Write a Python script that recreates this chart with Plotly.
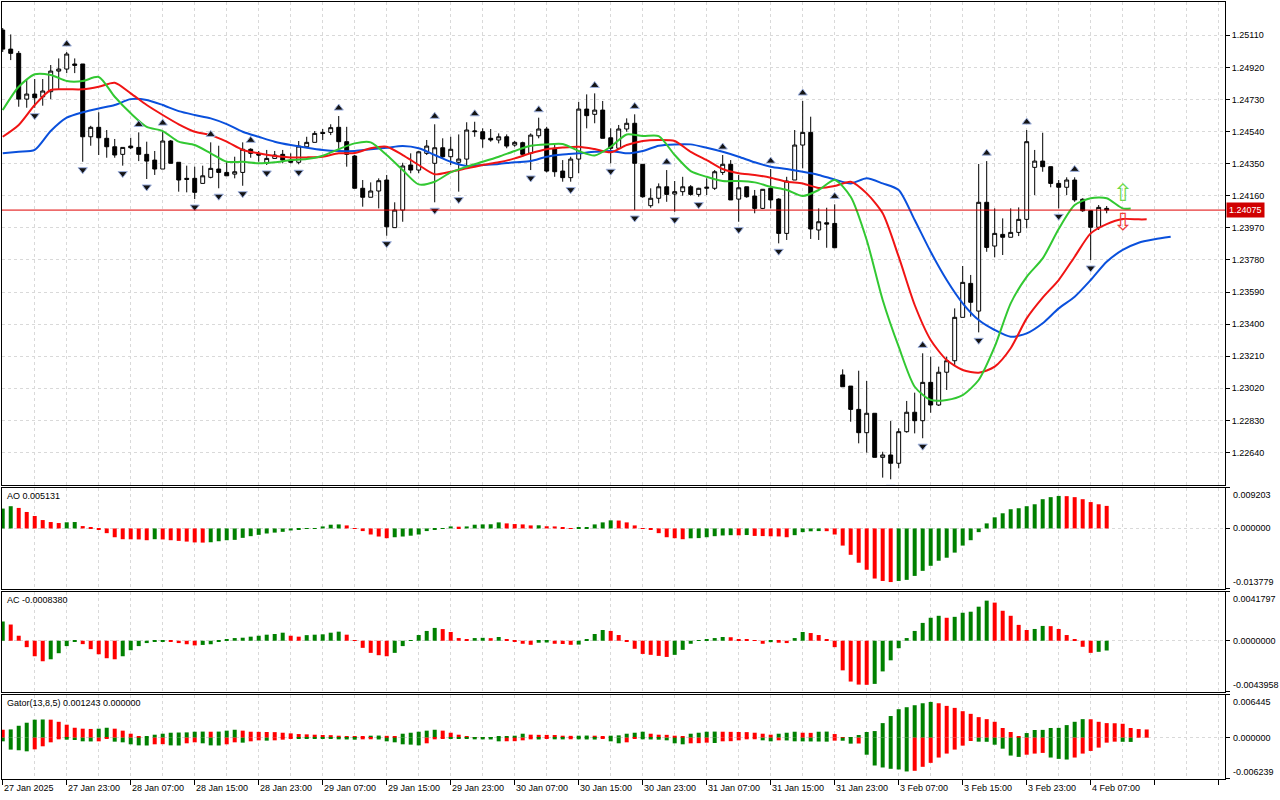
import plotly.graph_objects as go

# GBPUSD-like H1 chart, 27 Jan 15:00 .. 4 Feb 09:00 (weekend skipped)
opens = [
    1.25141, 1.25028, 1.25003, 1.24732, 1.24762, 1.24746, 1.24776, 1.24898, 1.24910, 1.24940,
    1.24940, 1.24509, 1.24565, 1.24500, 1.24450, 1.24405, 1.24454, 1.24446, 1.24405, 1.24371,
    1.24318, 1.24484, 1.24358, 1.24263, 1.24263, 1.24233, 1.24269, 1.24318, 1.24298, 1.24288,
    1.24298, 1.24435, 1.24407, 1.24352, 1.24381, 1.24405, 1.24371, 1.24358, 1.24450, 1.24476,
    1.24535, 1.24535, 1.24565, 1.24480, 1.24395, 1.24204, 1.24151, 1.24188, 1.24253, 1.23971,
    1.24075, 1.24342, 1.24312, 1.24411, 1.24352, 1.24444, 1.24391, 1.24358, 1.24377, 1.24539,
    1.24539, 1.24500, 1.24490, 1.24509, 1.24460, 1.24474, 1.24411, 1.24515, 1.24555, 1.24441,
    1.24306, 1.24267, 1.24377, 1.24673, 1.24642, 1.24667, 1.24503, 1.24441, 1.24555, 1.24589,
    1.24346, 1.24101, 1.24145, 1.24213, 1.24170, 1.24184, 1.24213, 1.24168, 1.24204, 1.24204,
    1.24298, 1.24346, 1.24140, 1.24213, 1.24158, 1.24085, 1.24204, 1.24140, 1.23937, 1.24253,
    1.24460, 1.24535, 1.23957, 1.24000, 1.23996, 1.23099, 1.23033, 1.22895, 1.22757, 1.22872,
    1.22611, 1.22625, 1.22576, 1.22763, 1.22878, 1.22828, 1.23055, 1.22921, 1.23115, 1.23183,
    1.23440, 1.23641, 1.23477, 1.24121, 1.23862, 1.23931, 1.23914, 1.23943, 1.24020, 1.24328,
    1.24365, 1.24332, 1.24233, 1.24210, 1.24253, 1.24139, 1.24071, 1.23973, 1.24085,
]
highs = [
    1.25153, 1.25115, 1.25017, 1.24845, 1.24851, 1.24851, 1.24934, 1.24973, 1.25011, 1.24973,
    1.24940, 1.24574, 1.24654, 1.24549, 1.24496, 1.24446, 1.24503, 1.24535, 1.24480, 1.24425,
    1.24543, 1.24490, 1.24358, 1.24338, 1.24332, 1.24338, 1.24476, 1.24456, 1.24361, 1.24391,
    1.24476, 1.24441, 1.24425, 1.24431, 1.24425, 1.24431, 1.24411, 1.24484, 1.24509, 1.24543,
    1.24555, 1.24583, 1.24632, 1.24568, 1.24401, 1.24253, 1.24239, 1.24263, 1.24283, 1.24121,
    1.24355, 1.24411, 1.24426, 1.24490, 1.24583, 1.24500, 1.24509, 1.24523, 1.24595, 1.24598,
    1.24559, 1.24555, 1.24529, 1.24523, 1.24484, 1.24480, 1.24529, 1.24622, 1.24568, 1.24460,
    1.24371, 1.24391, 1.24716, 1.24760, 1.24766, 1.24721, 1.24559, 1.24579, 1.24618, 1.24642,
    1.24346, 1.24204, 1.24233, 1.24312, 1.24247, 1.24272, 1.24223, 1.24207, 1.24263, 1.24312,
    1.24401, 1.24371, 1.24283, 1.24213, 1.24194, 1.24200, 1.24318, 1.24145, 1.24272, 1.24549,
    1.24721, 1.24628, 1.24085, 1.24089, 1.24109, 1.23132, 1.23033, 1.23124, 1.23063, 1.22872,
    1.22644, 1.22826, 1.22783, 1.22945, 1.22994, 1.23227, 1.23207, 1.23148, 1.23207, 1.23493,
    1.23744, 1.23691, 1.24348, 1.24365, 1.24085, 1.24026, 1.24085, 1.24091, 1.24549, 1.24431,
    1.24533, 1.24332, 1.24253, 1.24269, 1.24269, 1.24145, 1.24075, 1.24105, 1.24099,
]
lows = [
    1.25011, 1.24963, 1.24687, 1.24681, 1.24681, 1.24693, 1.24732, 1.24792, 1.24886, 1.24886,
    1.24361, 1.24456, 1.24401, 1.24385, 1.24385, 1.24338, 1.24436, 1.24365, 1.24259, 1.24283,
    1.24318, 1.24352, 1.24184, 1.24180, 1.24140, 1.24233, 1.24263, 1.24204, 1.24278, 1.24263,
    1.24219, 1.24385, 1.24361, 1.24342, 1.24381, 1.24352, 1.24352, 1.24346, 1.24450, 1.24476,
    1.24490, 1.24519, 1.24435, 1.24332, 1.24204, 1.24095, 1.24151, 1.24085, 1.23923, 1.23971,
    1.24006, 1.24293, 1.24293, 1.24401, 1.24121, 1.24381, 1.24342, 1.24184, 1.24332, 1.24509,
    1.24444, 1.24480, 1.24470, 1.24441, 1.24450, 1.24391, 1.24312, 1.24500, 1.24298, 1.24272,
    1.24243, 1.24243, 1.24293, 1.24559, 1.24589, 1.24500, 1.24352, 1.24436, 1.24539, 1.24075,
    1.24148, 1.24089, 1.24115, 1.24124, 1.24065, 1.24160, 1.24160, 1.24154, 1.24164, 1.24194,
    1.24283, 1.24135, 1.24006, 1.24148, 1.24056, 1.24081, 1.24085, 1.23878, 1.23898, 1.24253,
    1.24322, 1.23904, 1.23898, 1.23852, 1.23852, 1.23029, 1.22822, 1.22694, 1.22639, 1.22611,
    1.22491, 1.22481, 1.22546, 1.22757, 1.22753, 1.22724, 1.22875, 1.22915, 1.23010, 1.23158,
    1.23440, 1.23444, 1.23351, 1.23828, 1.23795, 1.23809, 1.23914, 1.23921, 1.23967, 1.24164,
    1.24302, 1.24210, 1.24085, 1.24164, 1.24124, 1.24065, 1.23779, 1.23957, 1.24056,
]
closes = [
    1.25028, 1.25003, 1.24732, 1.24762, 1.24740, 1.24780, 1.24898, 1.24910, 1.24999, 1.24932,
    1.24509, 1.24565, 1.24503, 1.24450, 1.24401, 1.24446, 1.24444, 1.24405, 1.24365, 1.24318,
    1.24484, 1.24352, 1.24253, 1.24257, 1.24180, 1.24278, 1.24322, 1.24298, 1.24278, 1.24302,
    1.24435, 1.24411, 1.24401, 1.24381, 1.24401, 1.24371, 1.24358, 1.24454, 1.24476, 1.24529,
    1.24529, 1.24563, 1.24480, 1.24405, 1.24204, 1.24151, 1.24188, 1.24249, 1.23976, 1.24075,
    1.24336, 1.24312, 1.24420, 1.24454, 1.24444, 1.24391, 1.24435, 1.24377, 1.24549, 1.24543,
    1.24496, 1.24490, 1.24509, 1.24454, 1.24476, 1.24405, 1.24519, 1.24555, 1.24306, 1.24302,
    1.24267, 1.24377, 1.24673, 1.24634, 1.24667, 1.24500, 1.24441, 1.24555, 1.24589, 1.24352,
    1.24154, 1.24145, 1.24213, 1.24168, 1.24184, 1.24213, 1.24168, 1.24204, 1.24210, 1.24302,
    1.24346, 1.24135, 1.24207, 1.24154, 1.24085, 1.24198, 1.24135, 1.23937, 1.24247, 1.24460,
    1.24535, 1.23963, 1.24006, 1.23992, 1.23852, 1.23029, 1.22895, 1.22757, 1.22872, 1.22611,
    1.22625, 1.22576, 1.22763, 1.22878, 1.22828, 1.23055, 1.22921, 1.23115, 1.23183, 1.23440,
    1.23647, 1.23529, 1.24121, 1.23854, 1.23937, 1.23914, 1.23943, 1.24020, 1.24480, 1.24365,
    1.24332, 1.24233, 1.24210, 1.24253, 1.24135, 1.24071, 1.23973, 1.24091, 1.24075,
]

# alligator, read every second bar (lines run past the last bar by their shift)
lips_x = list(range(0, 141, 2)) + [141]
lips = [
    1.24667, 1.24805, 1.24879, 1.24875, 1.24839, 1.24839, 1.24863, 1.24746, 1.24648, 1.24568,
    1.24543, 1.24480, 1.24460, 1.24411, 1.24361, 1.24361, 1.24352, 1.24358, 1.24371, 1.24377,
    1.24397, 1.24436, 1.24470, 1.24476, 1.24401, 1.24312, 1.24227, 1.24243, 1.24298, 1.24332,
    1.24361, 1.24391, 1.24425, 1.24456, 1.24464, 1.24466, 1.24425, 1.24398, 1.24450, 1.24523,
    1.24513, 1.24513, 1.24401, 1.24306, 1.24272, 1.24247, 1.24247, 1.24239, 1.24213, 1.24194,
    1.24158, 1.24194, 1.24253, 1.24154, 1.23898, 1.23543, 1.23266, 1.23029, 1.22951, 1.22951,
    1.22980, 1.23069, 1.23266, 1.23523, 1.23680, 1.23789, 1.23963, 1.24105, 1.24145, 1.24145,
    1.24085, 1.24085,
]
teeth_x = list(range(0, 143, 2)) + [143]
teeth = [
    1.24509, 1.24579, 1.24697, 1.24786, 1.24790, 1.24790, 1.24805, 1.24829, 1.24766, 1.24697,
    1.24638, 1.24583, 1.24539, 1.24519, 1.24480, 1.24431, 1.24411, 1.24395, 1.24387, 1.24387,
    1.24391, 1.24411, 1.24413, 1.24441, 1.24450, 1.24401, 1.24342, 1.24287, 1.24302, 1.24322,
    1.24342, 1.24358, 1.24381, 1.24411, 1.24435, 1.24445, 1.24450, 1.24436, 1.24417, 1.24460,
    1.24484, 1.24490, 1.24484, 1.24420, 1.24371, 1.24318, 1.24293, 1.24283, 1.24267, 1.24243,
    1.24233, 1.24206, 1.24217, 1.24243, 1.24174, 1.24056, 1.23799, 1.23513, 1.23306, 1.23187,
    1.23128, 1.23112, 1.23148, 1.23257, 1.23434, 1.23557, 1.23661, 1.23799, 1.23937, 1.23992,
    1.24022, 1.24020, 1.24020,
]
jaw_x = list(range(0, 147, 2))
jaw = [
    1.24411, 1.24420, 1.24431, 1.24543, 1.24622, 1.24654, 1.24677, 1.24697, 1.24732, 1.24727,
    1.24697, 1.24661, 1.24638, 1.24618, 1.24584, 1.24539, 1.24509, 1.24480, 1.24460, 1.24444,
    1.24431, 1.24425, 1.24425, 1.24435, 1.24444, 1.24454, 1.24441, 1.24401, 1.24361, 1.24336,
    1.24342, 1.24348, 1.24358, 1.24365, 1.24391, 1.24404, 1.24411, 1.24420, 1.24425, 1.24411,
    1.24425, 1.24456, 1.24464, 1.24464, 1.24444, 1.24420, 1.24391, 1.24358, 1.24332, 1.24318,
    1.24302, 1.24283, 1.24256, 1.24233, 1.24263, 1.24233, 1.24194, 1.24016, 1.23828, 1.23661,
    1.23523, 1.23424, 1.23365, 1.23325, 1.23345, 1.23405, 1.23493, 1.23562, 1.23661, 1.23769,
    1.23839, 1.23882, 1.23902, 1.23917,
]

# fractal bars
frac_up = [8, 17, 20, 26, 31, 42, 54, 59, 67, 74, 79, 83, 90, 96, 100, 104, 115, 123, 128, 134]
frac_dn = [4, 10, 15, 18, 24, 27, 30, 33, 37, 48, 54, 57, 66, 71, 76, 79, 84, 87, 92, 97,
           111, 115, 122, 132, 136]

# signal arrows at the right end
signal_bar = 140
signal_up = 1.24176
signal_down = 1.24004

# Awesome Oscillator
ao_prev = 0.0040
ao = [
    0.00452, 0.00506, 0.00467, 0.00375, 0.00283, 0.00191, 0.00146, 0.00123, 0.00140, 0.00146,
    0.00054, 0.00023, -0.00020, -0.00107, -0.00200, -0.00245, -0.00247, -0.00250, -0.00268, -0.00245,
    -0.00250, -0.00268, -0.00283, -0.00299, -0.00318, -0.00322, -0.00314, -0.00291, -0.00268, -0.00260,
    -0.00214, -0.00176, -0.00146, -0.00115, -0.00095, -0.00077, -0.00046, -0.00023, -0.00010, 0.00005,
    0.00046, 0.00085, 0.00092, 0.00069, 0.00005, -0.00060, -0.00138, -0.00184, -0.00222, -0.00200,
    -0.00184, -0.00165, -0.00138, -0.00060, -0.00015, 0.00010, 0.00046, 0.00040, 0.00046, 0.00085,
    0.00092, 0.00095, 0.00138, 0.00115, 0.00100, 0.00092, 0.00069, 0.00072, 0.00050, 0.00046,
    0.00015, 0.00010, 0.00012, 0.00023, 0.00092, 0.00138, 0.00184, 0.00180, 0.00138, 0.00069,
    0.00010, -0.00020, -0.00107, -0.00200, -0.00222, -0.00245, -0.00225, -0.00220, -0.00200, -0.00176,
    -0.00160, -0.00153, -0.00156, -0.00150, -0.00170, -0.00174, -0.00178, -0.00182, -0.00200, -0.00153,
    -0.00084, -0.00065, -0.00060, -0.00062, -0.00138, -0.00390, -0.00600, -0.00780, -0.00940, -0.01140,
    -0.01195, -0.01220, -0.01195, -0.01170, -0.01080, -0.00965, -0.00850, -0.00735, -0.00666, -0.00550,
    -0.00390, -0.00268, -0.00084, 0.00115, 0.00253, 0.00345, 0.00437, 0.00460, 0.00506, 0.00550,
    0.00666, 0.00712, 0.00740, 0.00735, 0.00712, 0.00666, 0.00600, 0.00550, 0.005131,
]
ao_range = [-0.013779, 0.009203]

# Accelerator Oscillator
ac_prev = 0.0012
ac = [
    0.00165, 0.00139, 0.00043, -0.00055, -0.00133, -0.00176, -0.00159, -0.00107, -0.00046, -0.00010,
    -0.00029, -0.00072, -0.00116, -0.00150, -0.00159, -0.00133, -0.00081, -0.00046, -0.00020, -0.00010,
    -0.00005, -0.00007, -0.00020, -0.00030, -0.00040, -0.00036, -0.00030, -0.00005, 0.00010, 0.00023,
    0.00026, 0.00035, 0.00043, 0.00052, 0.00058, 0.00069, 0.00043, 0.00035, 0.00048, 0.00052,
    0.00055, 0.00069, 0.00078, 0.00052, 0.00005, -0.00061, -0.00104, -0.00124, -0.00133, -0.00104,
    -0.00046, 0.00005, 0.00049, 0.00084, 0.00110, 0.00100, 0.00075, 0.00023, 0.00010, 0.00023,
    0.00025, 0.00022, 0.00032, 0.00014, -0.00005, -0.00026, -0.00035, -0.00017, -0.00015, -0.00026,
    -0.00028, -0.00035, -0.00033, 0.00010, 0.00058, 0.00092, 0.00084, 0.00049, -0.00005, -0.00069,
    -0.00113, -0.00121, -0.00130, -0.00139, -0.00121, -0.00078, -0.00026, 0.00005, 0.00010, 0.00023,
    0.00032, 0.00030, 0.00014, 0.00012, 0.00003, -0.00026, -0.00012, -0.00017, -0.00020, 0.00023,
    0.00075, 0.00066, 0.00049, 0.00014, -0.00055, -0.00254, -0.00350, -0.00376, -0.00378, -0.00370,
    -0.00263, -0.00168, -0.00064, 0.00023, 0.00084, 0.00153, 0.00197, 0.00214, 0.00197, 0.00205,
    0.00240, 0.00249, 0.00292, 0.00344, 0.00327, 0.00257, 0.00214, 0.00136, 0.00092, 0.00101,
    0.00127, 0.00125, 0.00101, 0.00049, 0.00010, -0.00052, -0.00104, -0.00095, -0.000838,
]
ac_range = [-0.0043958, 0.0041797]

# Gator oscillator (upper runs 5 bars ahead, lower 3 bars ahead)
gator_up_prev = 0.0013
gator_up = [
    0.00120, 0.00125, 0.00180, 0.00226, 0.00272, 0.00275, 0.00272, 0.00240, 0.00196, 0.00150,
    0.00136, 0.00132, 0.00136, 0.00150, 0.00136, 0.00106, 0.00060, 0.00012, 0.00018, 0.00045,
    0.00060, 0.00075, 0.00078, 0.00080, 0.00090, 0.00092, 0.00090, 0.00092, 0.00106, 0.00120,
    0.00106, 0.00090, 0.00088, 0.00086, 0.00084, 0.00075, 0.00065, 0.00055, 0.00050, 0.00045,
    0.00040, 0.00038, 0.00030, 0.00025, 0.00015, 0.00012, 0.00030, 0.00032, 0.00028, 0.00015,
    0.00060, 0.00075, 0.00090, 0.00106, 0.00120, 0.00106, 0.00075, 0.00045, 0.00015, 0.00010,
    0.00005, 0.00008, 0.00015, 0.00020, 0.00030, 0.00060, 0.00045, 0.00043, 0.00042, 0.00040,
    0.00030, 0.00028, 0.00030, 0.00032, 0.00030, 0.00015, 0.00030, 0.00035, 0.00060, 0.00075,
    0.00090, 0.00060, 0.00045, 0.00043, 0.00030, 0.00015, 0.00060, 0.00075, 0.00090, 0.00092,
    0.00090, 0.00088, 0.00086, 0.00084, 0.00075, 0.00060, 0.00045, 0.00060, 0.00075, 0.00090,
    0.00075, 0.00073, 0.00090, 0.00092, 0.00055, 0.00002, 0.00005, 0.00040, 0.00086, 0.00100,
    0.00220, 0.00327, 0.00430, 0.00460, 0.00490, 0.00520, 0.00540, 0.00520, 0.00480, 0.00450,
    0.00400, 0.00360, 0.00310, 0.00280, 0.00240, 0.00146, 0.00086, 0.00015, 0.00070, 0.00116,
    0.00118, 0.00146, 0.00148, 0.00190, 0.00240, 0.00280, 0.00278, 0.00240, 0.00220, 0.00218,
    0.00210, 0.00146, 0.00130, 0.001243,
]
gator_lo_prev = -0.0003
gator_lo = [
    -0.00055, -0.00180, -0.00190, -0.00206, -0.00176, -0.00130, -0.00070, -0.00025, -0.00030, -0.00035,
    -0.00055, -0.00057, -0.00055, -0.00010, -0.00060, -0.00070, -0.00100, -0.00116, -0.00118, -0.00100,
    -0.00098, -0.00116, -0.00118, -0.00085, -0.00070, -0.00085, -0.00116, -0.00118, -0.00100, -0.00070,
    -0.00075, -0.00055, -0.00040, -0.00045, -0.00040, -0.00030, -0.00010, -0.00012, -0.00013, -0.00014,
    -0.00015, -0.00017, -0.00025, -0.00027, -0.00030, -0.00025, -0.00024, -0.00027, -0.00055, -0.00070,
    -0.00100, -0.00105, -0.00116, -0.00085, -0.00025, -0.00010, -0.00012, -0.00013, -0.00014, -0.00025,
    -0.00026, -0.00027, -0.00055, -0.00054, -0.00053, -0.00040, -0.00025, -0.00027, -0.00010, -0.00025,
    -0.00026, -0.00024, -0.00025, -0.00027, -0.00028, -0.00010, -0.00055, -0.00085, -0.00070, -0.00015,
    -0.00025, -0.00027, -0.00030, -0.00040, -0.00085, -0.00100, -0.00085, -0.00083, -0.00075, -0.00080,
    -0.00055, -0.00053, -0.00040, -0.00025, -0.00024, -0.00040, -0.00055, -0.00040, -0.00042, -0.00055,
    -0.00056, -0.00057, -0.00058, -0.00060, -0.00045, -0.00046, -0.00090, -0.00088, -0.00257, -0.00420,
    -0.00450, -0.00470, -0.00480, -0.00510, -0.00500, -0.00440, -0.00380, -0.00300, -0.00240, -0.00180,
    -0.00120, -0.00050, -0.00060, -0.00062, -0.00106, -0.00166, -0.00270, -0.00290, -0.00257, -0.00240,
    -0.00230, -0.00300, -0.00320, -0.00330, -0.00300, -0.00240, -0.00200, -0.00150, -0.00075, -0.00060,
    -0.00062, -0.00064,
]
gator_range = [-0.006239, 0.006445]

price_ticks = [1.25110, 1.24920, 1.24730, 1.24540, 1.24350, 1.24160, 1.23970,
               1.23780, 1.23590, 1.23400, 1.23210, 1.23020, 1.22830, 1.22640]
time_labels = ["27 Jan 2025", "27 Jan 23:00", "28 Jan 07:00", "28 Jan 15:00", "28 Jan 23:00",
               "29 Jan 07:00", "29 Jan 15:00", "29 Jan 23:00", "30 Jan 07:00", "30 Jan 15:00",
               "30 Jan 23:00", "31 Jan 07:00", "31 Jan 15:00", "31 Jan 23:00", "3 Feb 07:00",
               "3 Feb 15:00", "3 Feb 23:00", "4 Feb 07:00"]

GREEN = "#008000"
RED = "#ff0000"
GRID = "#d9d9d9"
FONT = "Liberation Sans"
FRACTAL_GAP = 0.00047
DASH = "3px,3px"


def trend_colors(vals, prev, use_abs=False):
    cols = []
    for v in vals:
        a, b = (abs(v), abs(prev)) if use_abs else (v, prev)
        cols.append(GREEN if a > b else RED)
        prev = v
    return cols


bars = list(range(len(closes)))

fig = go.Figure()

fig.add_trace(go.Candlestick(
    x=bars, open=opens, high=highs, low=lows, close=closes,
    increasing=dict(line=dict(color="black", width=1), fillcolor="white"),
    decreasing=dict(line=dict(color="black", width=1), fillcolor="black"),
    whiskerwidth=0, xaxis="x", yaxis="y", hoverinfo="skip"))

for xs, ys, col in [(jaw_x, jaw, "#0a50dc"), (teeth_x, teeth, "#f01414"), (lips_x, lips, "#32c832")]:
    fig.add_trace(go.Scatter(x=xs, y=ys, mode="lines", xaxis="x", yaxis="y",
                             line=dict(color=col, width=2, shape="spline", smoothing=0.7)))

# bill williams fractals as small darts
frac_marker = dict(size=8, color="#141414", line=dict(color="#9fb2e0", width=1))
fig.add_trace(go.Scatter(
    x=frac_up, y=[highs[i] + FRACTAL_GAP for i in frac_up], mode="markers", xaxis="x", yaxis="y",
    marker=dict(frac_marker, symbol="triangle-up")))
fig.add_trace(go.Scatter(
    x=frac_dn, y=[lows[i] - FRACTAL_GAP for i in frac_dn], mode="markers", xaxis="x", yaxis="y",
    marker=dict(frac_marker, symbol="triangle-down")))

fig.add_trace(go.Bar(x=bars, y=ao, marker=dict(color=trend_colors(ao, ao_prev), line_width=0),
                     width=0.5, xaxis="x2", yaxis="y2"))
fig.add_trace(go.Bar(x=bars, y=ac, marker=dict(color=trend_colors(ac, ac_prev), line_width=0),
                     width=0.5, xaxis="x3", yaxis="y3"))
fig.add_trace(go.Bar(x=list(range(len(gator_up))), y=gator_up,
                     marker=dict(color=trend_colors(gator_up, gator_up_prev), line_width=0),
                     width=0.5, xaxis="x4", yaxis="y4"))
fig.add_trace(go.Bar(x=list(range(len(gator_lo))), y=gator_lo,
                     marker=dict(color=trend_colors(gator_lo, gator_lo_prev, use_abs=True), line_width=0),
                     width=0.5, xaxis="x4", yaxis="y4"))

# panes (pixel layout of the terminal window)
x_range = [-0.09, 152.79]
panes = {"y": [0.37838, 1.0], "y2": [0.24453, 0.37452], "y3": [0.11197, 0.24067], "y4": [0.0, 0.10811]}


def xaxis_cfg(anchor, bottom=False):
    cfg = dict(range=x_range, anchor=anchor, tickvals=list(range(0, 153, 8)), showticklabels=False,
               showgrid=True, gridcolor=GRID, griddash=DASH, gridwidth=1, zeroline=False,
               showline=True, mirror=True, linecolor="black", linewidth=1,
               ticks="outside" if bottom else "", ticklen=5, tickcolor="black",
               minor=dict(dtick=4, tick0=0, showgrid=True, gridcolor=GRID, griddash=DASH, ticks=""))
    if anchor != "y":
        cfg["matches"] = "x"
    return cfg


def pane_yaxis(domain, rng):
    return dict(domain=domain, range=rng, side="right", tickvals=[rng[0], 0, rng[1]],
                showticklabels=False, ticks="outside", ticklen=4, tickcolor="black",
                showgrid=True, gridcolor=GRID, griddash=DASH, zeroline=False,
                showline=True, mirror=True, linecolor="black", linewidth=1)


fig.update_layout(
    width=1280, height=800, margin=dict(l=2, r=55, t=2, b=21),
    paper_bgcolor="white", plot_bgcolor="white", showlegend=False, barmode="overlay",
    font=dict(family=FONT, size=9, color="black"),
    xaxis=dict(xaxis_cfg("y"), rangeslider=dict(visible=False)),
    xaxis2=xaxis_cfg("y2"), xaxis3=xaxis_cfg("y3"), xaxis4=xaxis_cfg("y4", bottom=True),
    yaxis=dict(domain=panes["y"], range=[1.224473, 1.25307], side="right",
               tickvals=price_ticks, ticktext=[f"{p:.5f}" for p in price_ticks],
               ticks="outside", ticklen=4, tickcolor="black", tickfont=dict(size=9),
               showgrid=True, gridcolor=GRID, griddash=DASH, zeroline=False,
               showline=True, mirror=True, linecolor="black", linewidth=1),
    yaxis2=pane_yaxis(panes["y2"], ao_range),
    yaxis3=pane_yaxis(panes["y3"], ac_range),
    yaxis4=pane_yaxis(panes["y4"], gator_range),
)

# last price line and tag
fig.add_shape(type="line", xref="x domain", x0=0, x1=1, yref="y", y0=closes[-1], y1=closes[-1],
              line=dict(color="#e00000", width=1))
fig.add_annotation(x=1, xref="paper", xanchor="left", xshift=1, y=closes[-1], yref="y",
                   text=f"{closes[-1]:.5f}", showarrow=False, bgcolor="#d00000",
                   font=dict(color="white", size=9), borderpad=2)

# signal arrows
fig.add_annotation(x=signal_bar, y=signal_up, xref="x", yref="y", text="\u21e7", showarrow=False,
                   font=dict(family="DejaVu Sans", size=24, color="#6cd94a"))
fig.add_annotation(x=signal_bar, y=signal_down, xref="x", yref="y", text="\u21e9", showarrow=False,
                   font=dict(family="DejaVu Sans", size=24, color="#f03c3c"))

# pane titles
titles = [("y2", f"AO {ao[-1]:.6f}"), ("y3", f"AC {ac[-1]:.7f}"),
          ("y4", f"Gator(13,8,5) {gator_up[-1]:.6f} {0:.6f}")]
for ax, txt in titles:
    fig.add_annotation(x=0, xref="paper", xanchor="left", xshift=3, y=1, yref=f"{ax} domain",
                       yanchor="top", yshift=-1, text=txt, showarrow=False)

# indicator scale labels
for ax, rng, digits in [("y2", ao_range, 6), ("y3", ac_range, 7), ("y4", gator_range, 6)]:
    for val, anchor, yref, yv in [(rng[1], "top", f"{ax} domain", 1), (0.0, "middle", ax, 0),
                                  (rng[0], "bottom", f"{ax} domain", 0)]:
        fig.add_annotation(x=1, xref="paper", xanchor="left", xshift=6, y=yv, yref=yref,
                           yanchor=anchor, text=f"{val:.{digits}f}", showarrow=False)

# time axis labels
for k, lab in enumerate(time_labels):
    fig.add_annotation(x=8 * k, xref="x4", xanchor="left", xshift=-1, y=0, yref="paper",
                       yanchor="top", yshift=-2, text=lab, showarrow=False)

fig.write_html("out.html", config={"displayModeBar": False},
               post_script="document.body.style.margin='0';")
